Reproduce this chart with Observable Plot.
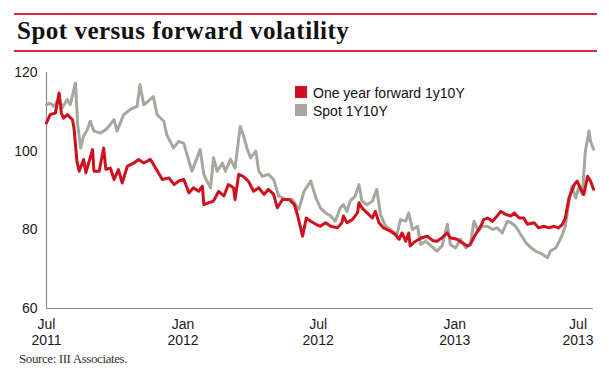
<!DOCTYPE html>
<html><head><meta charset="utf-8">
<script src="https://cdn.jsdelivr.net/npm/d3@7"></script>
<script src="https://cdn.jsdelivr.net/npm/@observablehq/plot@0.6"></script>
<style>
body{margin:0;background:#fff;}
#wrap{position:relative;width:609px;height:376px;overflow:hidden;background:#fff;font-family:"Liberation Sans",Arial,sans-serif;}
.rule{position:absolute;left:14px;width:583px;height:1.5px;background:#d42a3c;}
#title{position:absolute;left:17px;top:18px;font:bold 25px/25px "Liberation Serif",serif;letter-spacing:0.5px;color:#111;white-space:nowrap;}
#chart{position:absolute;left:0;top:56px;}
.leg{position:absolute;left:295px;font-size:14px;line-height:14px;color:#111;white-space:nowrap;}
.leg i{position:absolute;left:0;top:0;width:12px;height:12px;}
.leg span{position:absolute;left:18px;top:0;}
#source{position:absolute;left:19px;top:352px;font:13px/13px "Liberation Serif",serif;letter-spacing:-0.4px;color:#333;white-space:nowrap;}
</style></head>
<body>
<div id="wrap">
  <div class="rule" style="top:13px"></div>
  <div id="title">Spot versus forward volatility</div>
  <div class="rule" style="top:50px"></div>
  <div id="chart"></div>
  <div id="legend"></div>
  <div id="source">Source: III Associates.</div>
</div>
<script>
// ---- data ----
const seriesNames = ["One year forward 1y10Y", "Spot 1Y10Y"];
const seriesColors = ["#d0101e", "#a6a79f"];

const fwdDates = ["2011-07-01","2011-07-06","2011-07-13","2011-07-18","2011-07-21","2011-07-24","2011-07-29","2011-08-05","2011-08-07","2011-08-11","2011-08-14","2011-08-20","2011-08-23","2011-09-01","2011-09-03","2011-09-10","2011-09-16","2011-09-19","2011-09-25","2011-09-30","2011-10-06","2011-10-11","2011-10-18","2011-10-27","2011-11-02","2011-11-09","2011-11-18","2011-11-25","2011-12-04","2011-12-13","2011-12-20","2011-12-26","2012-01-02","2012-01-09","2012-01-15","2012-01-22","2012-01-27","2012-01-29","2012-02-05","2012-02-11","2012-02-18","2012-02-25","2012-03-02","2012-03-09","2012-03-11","2012-03-16","2012-03-22","2012-03-29","2012-04-05","2012-04-12","2012-04-19","2012-04-25","2012-05-02","2012-05-07","2012-05-14","2012-05-23","2012-05-30","2012-06-03","2012-06-10","2012-06-15","2012-06-21","2012-06-28","2012-07-04","2012-07-11","2012-07-18","2012-07-27","2012-08-02","2012-08-04","2012-08-09","2012-08-16","2012-08-23","2012-08-25","2012-08-29","2012-09-05","2012-09-12","2012-09-16","2012-09-21","2012-09-27","2012-10-06","2012-10-13","2012-10-18","2012-10-22","2012-10-27","2012-10-31","2012-11-02","2012-11-09","2012-11-18","2012-11-25","2012-12-02","2012-12-08","2012-12-15","2012-12-22","2012-12-26","2013-01-04","2013-01-11","2013-01-18","2013-01-22","2013-01-29","2013-02-05","2013-02-09","2013-02-14","2013-02-21","2013-02-27","2013-03-04","2013-03-11","2013-03-18","2013-03-22","2013-03-29","2013-04-04","2013-04-09","2013-04-18","2013-04-24","2013-05-01","2013-05-08","2013-05-15","2013-05-21","2013-05-26","2013-05-30","2013-06-04","2013-06-11","2013-06-15","2013-06-20","2013-06-24","2013-06-29","2013-07-03","2013-07-07"];
const fwdValues = [107.2,109.3,109.7,114.8,109.7,108.4,109.3,108.0,105.9,97.4,94.9,97.9,94.5,100.4,94.9,94.9,100.8,95.4,95.7,92.8,95.3,91.9,96.2,97.0,97.9,97.0,97.9,95.7,92.8,93.2,91.5,92.4,92.8,89.4,90.7,89.8,91.1,86.4,86.9,87.3,89.8,88.6,91.5,90.7,87.7,94.1,93.6,92.4,89.8,90.7,89.0,90.3,89.0,85.6,87.7,87.7,86.4,83.9,78.4,83.0,82.2,81.4,80.9,81.8,80.9,80.5,81.8,83.5,81.8,82.6,84.3,86.9,85.6,84.3,83.0,84.7,81.8,80.5,79.7,78.8,77.6,79.2,77.1,79.2,75.9,77.1,78.0,78.4,77.3,77.1,78.0,79.2,78.0,77.6,76.7,75.9,76.3,78.8,80.9,82.6,83.0,82.2,83.5,84.7,83.9,83.5,84.3,83.0,83.0,81.4,81.8,80.5,80.9,80.5,80.9,80.5,81.4,83.0,88.1,91.5,92.4,90.3,89.0,93.6,92.4,90.3];

const spotDates = ["2011-07-01","2011-07-06","2011-07-11","2011-07-18","2011-07-22","2011-07-29","2011-08-02","2011-08-09","2011-08-12","2011-08-16","2011-08-20","2011-08-25","2011-08-29","2011-09-03","2011-09-12","2011-09-19","2011-09-25","2011-09-30","2011-10-04","2011-10-13","2011-10-22","2011-10-31","2011-11-04","2011-11-09","2011-11-15","2011-11-22","2011-11-27","2011-12-06","2011-12-10","2011-12-19","2011-12-26","2012-01-02","2012-01-09","2012-01-13","2012-01-18","2012-01-24","2012-01-29","2012-02-02","2012-02-07","2012-02-11","2012-02-16","2012-02-23","2012-02-27","2012-03-05","2012-03-11","2012-03-18","2012-03-22","2012-03-27","2012-04-01","2012-04-08","2012-04-12","2012-04-17","2012-04-25","2012-05-02","2012-05-09","2012-05-18","2012-05-27","2012-06-05","2012-06-12","2012-06-21","2012-06-28","2012-07-04","2012-07-11","2012-07-18","2012-07-24","2012-07-31","2012-08-04","2012-08-09","2012-08-13","2012-08-20","2012-08-25","2012-08-29","2012-09-05","2012-09-12","2012-09-18","2012-09-23","2012-09-30","2012-10-06","2012-10-15","2012-10-20","2012-10-27","2012-10-31","2012-11-05","2012-11-12","2012-11-16","2012-11-23","2012-11-30","2012-12-08","2012-12-15","2012-12-22","2012-12-26","2013-01-02","2013-01-09","2013-01-16","2013-01-22","2013-01-27","2013-02-02","2013-02-07","2013-02-14","2013-02-21","2013-02-27","2013-03-06","2013-03-13","2013-03-18","2013-03-24","2013-03-31","2013-04-07","2013-04-14","2013-04-20","2013-04-29","2013-05-06","2013-05-10","2013-05-17","2013-05-21","2013-05-26","2013-05-30","2013-06-04","2013-06-08","2013-06-13","2013-06-17","2013-06-22","2013-06-26","2013-07-01","2013-07-03","2013-07-07"];
const spotValues = [111.8,112.2,111.4,113.5,111.0,113.1,111.8,117.3,106.8,100.8,103.8,105.5,107.6,105.1,104.6,105.5,106.8,108.0,105.1,109.3,110.6,111.4,116.9,111.8,112.7,113.9,109.3,107.6,104.2,100.8,102.5,102.0,97.4,94.9,97.4,100.4,94.1,92.4,90.7,98.3,94.9,97.0,94.9,97.9,95.7,106.3,104.2,100.8,98.3,100.0,94.9,93.6,94.1,92.8,88.6,87.7,87.7,85.2,89.8,92.4,88.1,85.6,84.3,83.5,82.2,85.6,86.4,84.7,87.3,88.6,91.5,87.3,86.4,87.3,90.3,83.9,80.9,80.1,78.8,82.6,82.2,84.3,80.1,80.9,76.3,77.1,75.9,74.6,75.9,81.4,76.3,75.4,77.6,75.4,76.3,82.2,79.7,80.9,80.9,80.1,80.5,79.2,82.2,81.8,80.9,78.8,76.7,75.4,74.6,73.8,72.9,74.6,75.4,76.7,78.8,80.9,87.3,91.1,88.1,90.7,89.0,100.0,105.1,102.5,100.5];

const yTicks = [60, 80, 100, 120];
const xTickDates = ["2011-07-01","2012-01-01","2012-07-01","2013-01-01","2013-07-01"];
const xTickLabels = ["Jul\n2011","Jan\n2012","Jul\n2012","Jan\n2013","Jul\n2013"];
const xDomain = ["2011-07-01","2013-07-07"];
const yDomain = [60, 120];

// ---- build ----
const parse = d3.utcParse("%Y-%m-%d");
const fwd = fwdDates.map((d, i) => ({date: parse(d), value: fwdValues[i]}));
const spot = spotDates.map((d, i) => ({date: parse(d), value: spotValues[i]}));
const tickDates = xTickDates.map(parse);
const labelOf = new Map(tickDates.map((d, i) => [+d, xTickLabels[i]]));
const axisColor = "#8c8c8c";

const chart = Plot.plot({
  width: 609, height: 290,
  marginTop: 16, marginBottom: 38, marginLeft: 46, marginRight: 16,
  x: {type: "utc", domain: xDomain.map(parse)},
  y: {domain: yDomain},
  style: {fontFamily: "'Liberation Sans', Arial, sans-serif", fontSize: "14px", color: "#1a1a1a", background: "#fff", overflow: "visible"},
  marks: [
    Plot.ruleY([yDomain[0]], {stroke: axisColor, strokeWidth: 1.2}),
    Plot.ruleX([parse(xDomain[0])], {stroke: axisColor, strokeWidth: 1.2}),
    Plot.axisY(yTicks, {tickSize: 0, tickPadding: 9, label: null, fontSize: 14}),
    Plot.axisX(tickDates.slice(0, -1), {tickSize: 0, tickPadding: 9, label: null, fontSize: 14, lineHeight: 1.15, tickFormat: d => labelOf.get(+d)}),
    Plot.axisX(tickDates.slice(-1), {tickSize: 0, tickPadding: 9, label: null, fontSize: 14, lineHeight: 1.15, dx: -11, tickFormat: d => labelOf.get(+d)}),
    Plot.line(spot, {x: "date", y: "value", stroke: seriesColors[1], strokeWidth: 3, strokeLinejoin: "round"}),
    Plot.line(fwd, {x: "date", y: "value", stroke: seriesColors[0], strokeWidth: 3, strokeLinejoin: "round"})
  ]
});
document.getElementById("chart").appendChild(chart);

// legend
const legend = document.getElementById("legend");
seriesNames.forEach((name, i) => {
  const el = document.createElement("div");
  el.className = "leg";
  el.style.top = (86 + i * 18) + "px";
  el.innerHTML = `<i style="background:${seriesColors[i]}"></i><span>${name}</span>`;
  legend.appendChild(el);
});
</script>
</body></html>
